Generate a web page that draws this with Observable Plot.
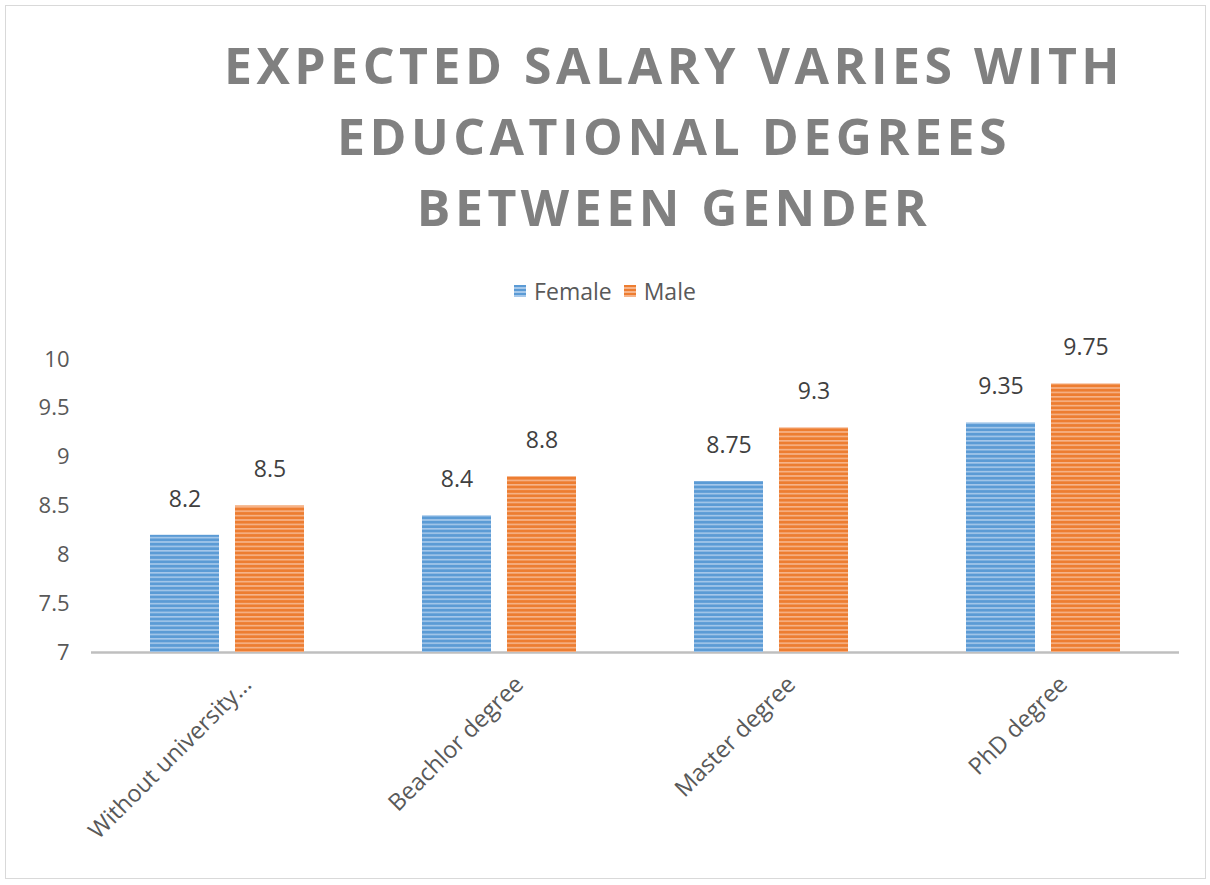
<!DOCTYPE html>
<html>
<head>
<meta charset="utf-8">
<script src="https://cdn.jsdelivr.net/npm/d3@7"></script>
<script src="https://cdn.jsdelivr.net/npm/@observablehq/plot@0.6"></script>
<style>
  html, body { margin: 0; padding: 0; background: #fff; }
  #wrap { position: relative; width: 1210px; height: 885px; overflow: hidden; font-family: "Open Sans", sans-serif; }
  #frame { position: absolute; left: 5px; top: 5px; width: 1201px; height: 874px; border: 1px solid #d9d9d9; box-sizing: border-box; }
  #title { position: absolute; left: 100px; width: 1148px; top: 30px; text-align: center; font-weight: 700; font-size: 50px; line-height: 71px; letter-spacing: 4.5px; color: #808080; }
  #legend { position: absolute; left: 0; width: 1210px; top: 279px; display: flex; justify-content: center; align-items: center; font-size: 23px; line-height: 24px; color: #595959; }
  #legend .item { display: flex; align-items: center; margin: 0 6px; }
  #legend .sw { width: 12px; height: 12px; margin-right: 8px; }
  #chart { position: absolute; left: 0; top: 330px; }
</style>
</head>
<body>
<div id="wrap">
  <div id="frame"></div>
  <div id="title">EXPECTED SALARY VARIES WITH<br>EDUCATIONAL DEGREES<br>BETWEEN GENDER</div>
  <div id="legend"></div>
  <div id="chart"></div>
</div>
<script>
const categories = ["Without university...", "Beachlor degree", "Master degree", "PhD degree"];
const series = ["Female", "Male"];
const femaleValues = [8.2, 8.4, 8.75, 9.35];
const maleValues = [8.5, 8.8, 9.3, 9.75];
const yTicks = [7, 7.5, 8, 8.5, 9, 9.5, 10];
const seriesColors = ["#5B9BD5", "#ED7D31"];
const stripeColors = ["#a6c8ea", "#f6b48a"];

const data = [];
categories.forEach((c, i) => {
  data.push({category: c, gender: "Female", value: femaleValues[i]});
  data.push({category: c, gender: "Male", value: maleValues[i]});
});

// legend
const legend = document.getElementById("legend");
series.forEach((s, i) => {
  const item = document.createElement("div");
  item.className = "item";
  const sw = document.createElement("div");
  sw.className = "sw";
  sw.style.background = `repeating-linear-gradient(to bottom, ${seriesColors[i]} 0px, ${seriesColors[i]} 2.5px, ${stripeColors[i]} 2.5px, ${stripeColors[i]} 4px)`;
  const t = document.createElement("span");
  t.textContent = s;
  item.appendChild(sw);
  item.appendChild(t);
  legend.appendChild(item);
});

const chart = Plot.plot({
  width: 1210,
  height: 550,
  marginLeft: 89,
  marginRight: 30,
  marginTop: 29,
  marginBottom: 228,
  style: {fontFamily: "Open Sans, sans-serif", background: "transparent"},
  fx: {domain: categories, padding: 0, label: null},
  x: {domain: series, paddingInner: 0.19, paddingOuter: 0.685, axis: null},
  y: {domain: [7, 10], ticks: yTicks, label: null},
  color: {domain: series, range: series.map((s, i) => `url(#stripe${i})`)},
  marks: [
    Plot.axisY({ticks: yTicks, tickSize: 0, tickPadding: 22, fontSize: 22, color: "#595959", label: null, tickFormat: d => String(d)}),
    Plot.axisFx({anchor: "bottom", tickRotate: -45, tickSize: 0, tickPadding: 6, fontSize: 23.5, color: "#595959", label: null, dx: 20, dy: 22}),
    Plot.ruleY([7], {stroke: "#bfbfbf", strokeWidth: 2.5}),
    Plot.barY(data, {fx: "category", x: "gender", y1: 7, y2: "value", fill: "gender"}),
    Plot.text(data, {fx: "category", x: "gender", y: "value", text: d => String(d.value), dy: -36, fontSize: 23, fill: "#404040"})
  ]
});

// stripe pattern defs (styling only)
const svgNS = "http://www.w3.org/2000/svg";
const defs = document.createElementNS(svgNS, "defs");
seriesColors.forEach((c, i) => {
  const p = document.createElementNS(svgNS, "pattern");
  p.setAttribute("id", `stripe${i}`);
  p.setAttribute("patternUnits", "userSpaceOnUse");
  p.setAttribute("width", "8");
  p.setAttribute("height", "4.4");
  const r1 = document.createElementNS(svgNS, "rect");
  r1.setAttribute("width", "8"); r1.setAttribute("height", "4.4"); r1.setAttribute("fill", c);
  const r2 = document.createElementNS(svgNS, "rect");
  r2.setAttribute("width", "8"); r2.setAttribute("height", "1.6"); r2.setAttribute("fill", stripeColors[i]);
  p.appendChild(r1); p.appendChild(r2);
  defs.appendChild(p);
});
chart.insertBefore(defs, chart.firstChild);
document.getElementById("chart").appendChild(chart);
</script>
</body>
</html>
